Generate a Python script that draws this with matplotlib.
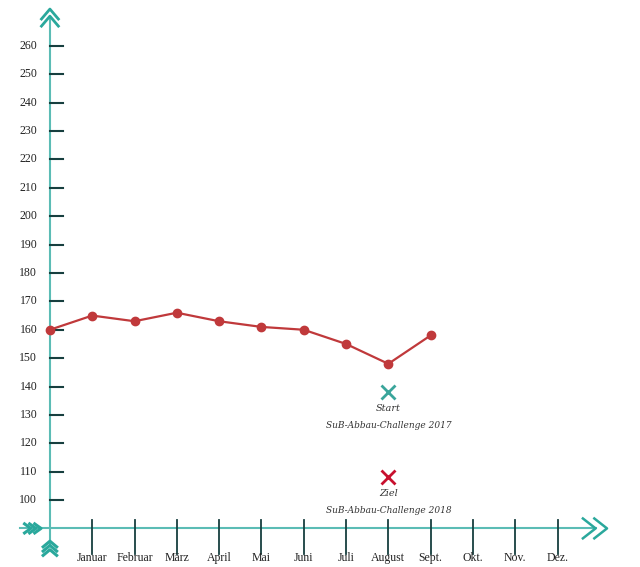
import matplotlib
matplotlib.use("Agg")
import matplotlib.pyplot as plt

months = ["", "Januar", "Februar", "März", "April", "Mai", "Juni", "Juli",
          "August", "Sept.", "Okt.", "Nov.", "Dez."]
values = [160, 165, 163, 166, 163, 161, 160, 155, 148, 158]
y_ticks = list(range(100, 261, 10))
start_val = 138
goal_val = 108
goal_x = 8

teal = "#5bbcb5"
dark = "#173f3f"
red = "#c0393b"

fig = plt.figure(figsize=(6.4, 5.67), dpi=100)
ax = fig.add_axes([0, 0, 1, 1])
ax.set_xlim(-1.18, 13.95)
ax.set_ylim(76.4, 276.2)
ax.axis("off")

# axes lines
ax.plot([0, 0], [84, 270], color=teal, lw=1.5, zorder=1)
ax.plot([-0.7, 12.9], [90, 90], color=teal, lw=1.5, zorder=1)
# arrow heads
for d in (0, 2.5):
    ax.plot([-0.2, 0, 0.2], [269.5 - d, 273 - d, 269.5 - d], color="#2aa89c", lw=2, zorder=2)
for d in (0, 0.27):
    ax.plot([12.6 + d, 12.9 + d, 12.6 + d], [93.5, 90, 86.5], color="#2aa89c", lw=1.8, zorder=2)
for d in (0, 0.12, 0.24):
    ax.plot([-0.6 + d, -0.45 + d, -0.6 + d], [91.6, 90, 88.4], color="#2aa89c", lw=2.2, zorder=2)
for d in (0, 1.5, 3.0):
    ax.plot([-0.16, 0, 0.16], [80.5 + d, 82.5 + d, 80.5 + d], color="#2aa89c", lw=2.2, zorder=2)

# y ticks
for v in y_ticks:
    ax.plot([0, 0.3], [v, v], color=dark, lw=1.5, zorder=2)
    ax.text(-0.3, v, str(v), ha="right", va="center", fontsize=8.5,
            family="Liberation Serif", color="#222222")
# x ticks
for i, m in enumerate(months):
    if i == 0:
        continue
    ax.plot([i, i], [81, 93], color=dark, lw=1.3, zorder=2)
    ax.text(i, 79.5, m, ha="center", va="center", fontsize=8.5,
            family="Liberation Serif", color="#222222")

ax.plot(range(len(values)), values, color=red, lw=1.6, marker="o", ms=6, zorder=3)

ax.plot(goal_x, start_val, marker="x", ms=10, mew=2, color="#3aa59b")
ax.text(goal_x, start_val - 6.5, "Start", ha="center", fontsize=7, style="italic",
        family="DejaVu Serif", color="#333333")
ax.text(goal_x, start_val - 12.5, "SuB-Abbau-Challenge 2017", ha="center", fontsize=6.5,
        style="italic", family="DejaVu Serif", color="#333333")
ax.plot(goal_x, goal_val, marker="x", ms=10, mew=2, color="#c8102e")
ax.text(goal_x, goal_val - 6.5, "Ziel", ha="center", fontsize=7, style="italic",
        family="DejaVu Serif", color="#333333")
ax.text(goal_x, goal_val - 12.5, "SuB-Abbau-Challenge 2018", ha="center", fontsize=6.5,
        style="italic", family="DejaVu Serif", color="#333333")

fig.savefig("out.png", dpi=100)
